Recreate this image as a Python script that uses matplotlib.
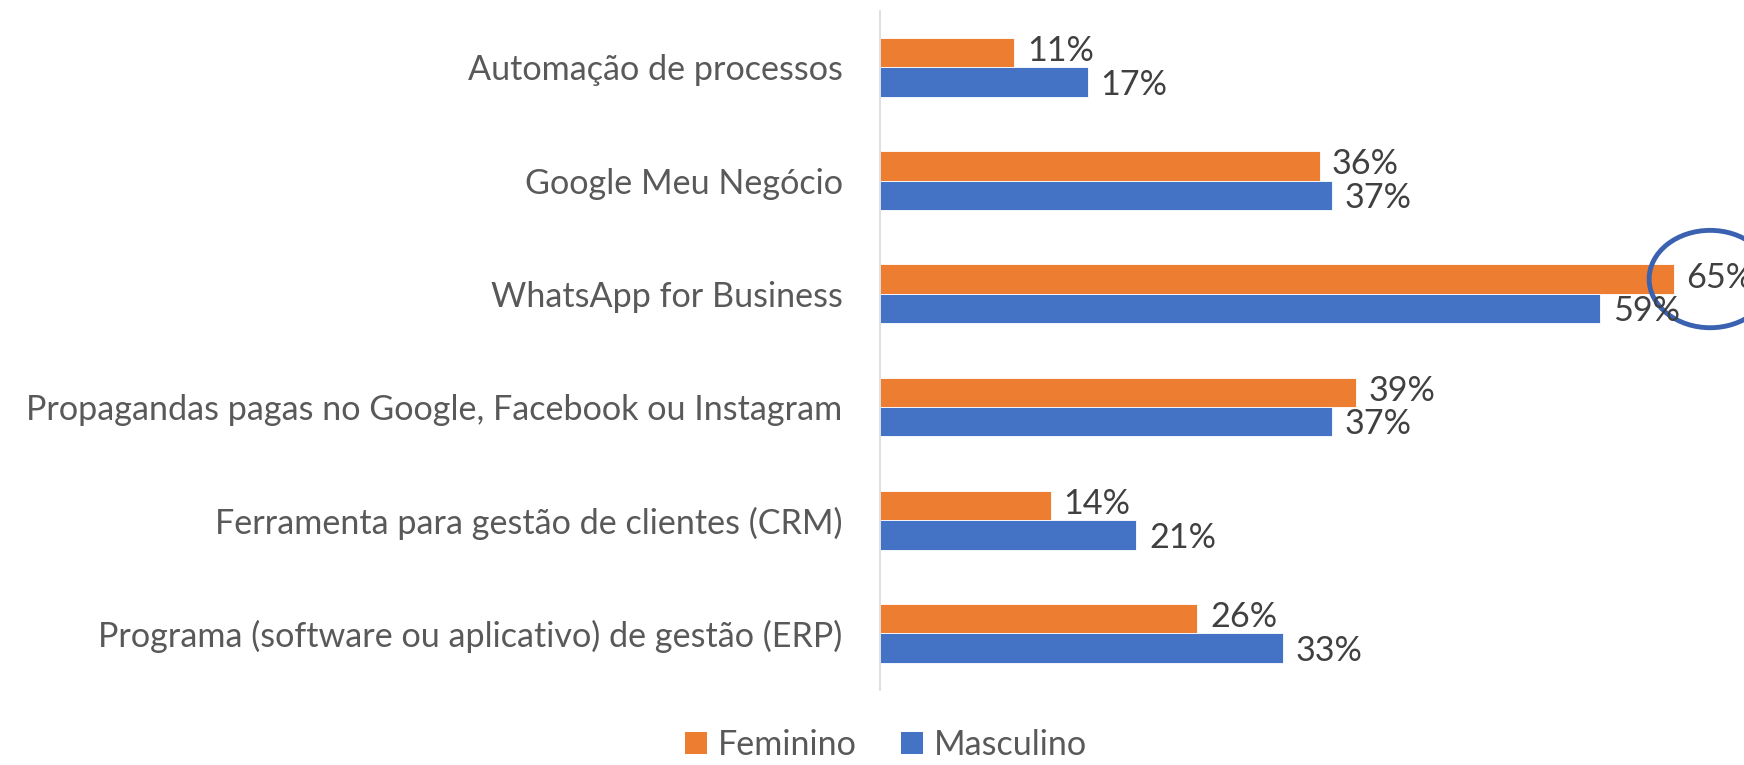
import numpy as np
import matplotlib
matplotlib.use("Agg")
import matplotlib.pyplot as plt
from matplotlib.patches import Patch, Ellipse

# Data (top to bottom)
categories = [
    "Automação de processos",
    "Google Meu Negócio",
    "WhatsApp for Business",
    "Propagandas pagas no Google, Facebook ou Instagram",
    "Ferramenta para gestão de clientes (CRM)",
    "Programa (software ou aplicativo) de gestão (ERP)",
]
feminino = [0.11, 0.36, 0.65, 0.39, 0.14, 0.26]
masculino = [0.17, 0.37, 0.59, 0.37, 0.21, 0.33]
series_names = ["Feminino", "Masculino"]

ORANGE = "#ED7D31"
BLUE = "#4472C4"
TEXT = "#595959"
LABEL = "#404040"
FS = 24.6

plt.rcParams["font.family"] = ["Lato", "DejaVu Sans"]

fig = plt.figure(figsize=(17.44, 7.65), dpi=100)
ax = fig.add_axes([0.5046, 0.098, 0.49, 0.888])

y = np.arange(len(categories))
h = 0.26

ax.barh(y - h / 2, feminino, height=h, color=ORANGE, edgecolor="white", linewidth=0.6)
ax.barh(y + h / 2, masculino, height=h, color=BLUE, edgecolor="white", linewidth=0.6)

for yi, v in zip(y, feminino):
    ax.annotate(f"{v*100:.0f}%", (v, yi - h / 2), xytext=(9, 1), textcoords="offset points",
                va="center", ha="left", fontsize=FS, color=LABEL, annotation_clip=False)
for yi, v in zip(y, masculino):
    ax.annotate(f"{v*100:.0f}%", (v, yi + h / 2), xytext=(9, -2), textcoords="offset points",
                va="center", ha="left", fontsize=FS, color=LABEL, annotation_clip=False)

ax.set_xlim(0, 0.70)
ax.set_ylim(len(categories) - 0.5, -0.5)
ax.set_yticks(y)
ax.set_yticklabels(categories, fontsize=FS, color=TEXT)
ax.tick_params(axis="y", length=0, pad=27)
ax.set_xticks([])
for side in ["top", "right", "bottom"]:
    ax.spines[side].set_visible(False)
ax.spines["left"].set_color("#D9D9D9")
ax.spines["left"].set_linewidth(1.2)

# highlight circle around the WhatsApp feminino label
wi = categories.index("WhatsApp for Business")
circ = Ellipse((feminino[wi] + 0.030, wi - h / 2), width=0.10, height=0.86,
               fill=False, edgecolor="#3A62B0", linewidth=3.5, clip_on=False)
ax.add_patch(circ)

handles = [Patch(facecolor=ORANGE), Patch(facecolor=BLUE)]
fig.legend(handles, series_names, loc="lower center", bbox_to_anchor=(0.508, -0.035),
           ncol=2, frameon=False, fontsize=FS, labelcolor=TEXT,
           handlelength=0.65, handleheight=0.65, handletextpad=0.3, columnspacing=1.3)

fig.savefig("out.png", dpi=100)
